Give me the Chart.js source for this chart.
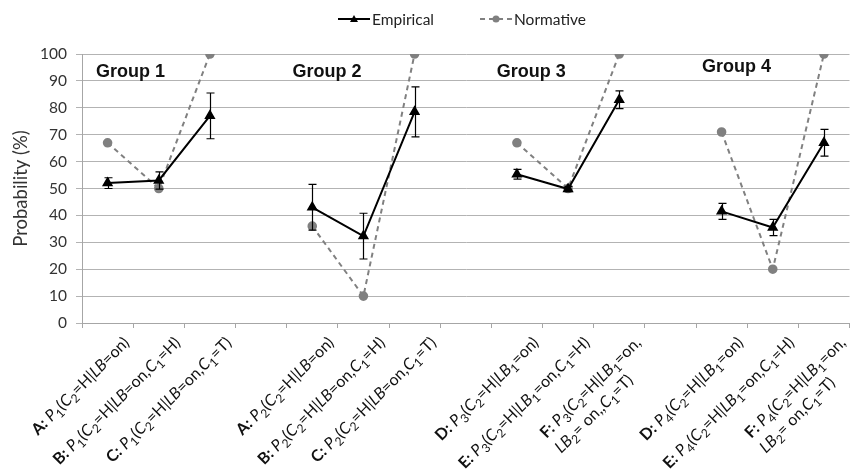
<!DOCTYPE html>
<html>
<head>
<meta charset="utf-8">
<script src="https://cdn.jsdelivr.net/npm/chart.js@4/dist/chart.umd.min.js"></script>
<style>
html,body{margin:0;padding:0;background:#fff;overflow:hidden;}
#wrap{width:856px;height:469px;position:relative;}
</style>
</head>
<body>
<div id="wrap"><canvas id="c"></canvas></div>
<script>
// ---- data ----
const categories = ['G1A','G1B','G1C','gap1','G2A','G2B','G2C','gap2','G3D','G3E','G3F','gap3','G4D','G4E','G4F'];
// rich labels: ^ toggles bold, ~ toggles italic, _x = subscript x
const xLabels = [
  '^A:^ ~P~_1(~C~_2=H|~LB~=on)',
  '^B:^ ~P~_1(~C~_2=H|~LB~=on,~C~_1=H)',
  '^C:^ ~P~_1(~C~_2=H|~LB~=on,~C~_1=T)',
  '',
  '^A:^ ~P~_2(~C~_2=H|~LB~=on)',
  '^B:^ ~P~_2(~C~_2=H|~LB~=on,~C~_1=H)',
  '^C:^ ~P~_2(~C~_2=H|~LB~=on,~C~_1=T)',
  '',
  '^D:^ ~P~_3(~C~_2=H|~LB~_1=on)',
  '^E:^ ~P~_3(~C~_2=H|~LB~_1=on,~C~_1=H)',
  ['^F:^ ~P~_3(~C~_2=H|~LB~_1=on,', '~LB~_2= on,,~C~_1=T)'],
  '',
  '^D:^ ~P~_4(~C~_2=H|~LB~_1=on)',
  '^E:^ ~P~_4(~C~_2=H|~LB~_1=on,~C~_1=H)',
  ['^F:^ ~P~_4(~C~_2=H|~LB~_1=on,', '~LB~_2= on,~C~_1=T)']
];
const empirical      = [52, 53, 77, null, 43, 32.3, 78.5, null, 55.3, 49.8, 83, null, 41.5, 35.5, 67];
const empiricalError = [2, 3.2, 8.5, null, 8.5, 8.5, 9.3, null, 1.8, 1, 3.3, null, 3, 3, 5];
const normative      = [67, 50, 100, null, 36, 10, 100, null, 67, 50, 100, null, 71, 20, 100];
const yTicks = [0,10,20,30,40,50,60,70,80,90,100];
const groupTitles = ['Group 1','Group 2','Group 3','Group 4'];
const seriesNames = ['Empirical','Normative'];

// ---- styles ----
const FONT = 'Lato';
const LBL_SIZE = 16;
const LBL_LINE = 21;

function parseRich(str){
  const segs=[]; let bold=false, italic=false, i=0;
  while(i<str.length){
    const ch=str[i];
    if(ch==='^'){bold=!bold;i++;continue;}
    if(ch==='~'){italic=!italic;i++;continue;}
    if(ch==='_'){segs.push({t:str[i+1],bold,italic:false,sub:true});i+=2;continue;}
    const last=segs[segs.length-1];
    if(last && !last.sub && last.bold===bold && last.italic===italic){last.t+=ch;}
    else segs.push({t:ch,bold,italic,sub:false});
    i++;
  }
  return segs;
}
function segFont(s){
  const size = s.sub ? Math.round(LBL_SIZE*0.75) : LBL_SIZE;
  return (s.italic?'italic ':'')+(s.bold?'bold ':'')+size+'px '+FONT;
}
function segsWidth(ctx,segs){
  let w=0; segs.forEach(s=>{ctx.font=segFont(s); w+=ctx.measureText(s.t).width;}); return w;
}

const richLabels = {
  id:'richLabels',
  afterDraw(chart){
    const {ctx, scales:{x,y}} = chart;
    const base = y.getPixelForValue(0);
    ctx.save();
    ctx.fillStyle='#111';
    ctx.textBaseline='alphabetic';
    xLabels.forEach((lab,i)=>{
      const lines = Array.isArray(lab)?lab:[lab];
      if(!lines[0]) return;
      const px = x.getPixelForValue(i);
      const parsed = lines.map(parseRich);
      const bw = Math.max(...parsed.map(s=>segsWidth(ctx,s)));
      ctx.save();
      ctx.translate(px+13, base+11);
      ctx.rotate(-Math.PI/4);
      parsed.forEach((segs,li)=>{
        let cx=-bw; const by = LBL_SIZE*0.85 + li*LBL_LINE;
        segs.forEach(s=>{
          ctx.font=segFont(s);
          ctx.fillText(s.t,cx,by+(s.sub?LBL_SIZE*0.25:0));
          cx+=ctx.measureText(s.t).width;
        });
      });
      ctx.restore();
    });
    ctx.restore();
  }
};

const errorBars = {
  id:'errorBars',
  afterDatasetsDraw(chart){
    const {ctx, scales:{x,y}} = chart;
    ctx.save();
    ctx.strokeStyle='#000'; ctx.lineWidth=1.2;
    empirical.forEach((v,i)=>{
      if(v===null||empiricalError[i]===null) return;
      const px=Math.round(x.getPixelForValue(i))+0.5;
      const top=y.getPixelForValue(v+empiricalError[i]);
      const bot=y.getPixelForValue(v-empiricalError[i]);
      ctx.beginPath();
      ctx.moveTo(px,top); ctx.lineTo(px,bot);
      ctx.moveTo(px-4,top); ctx.lineTo(px+4,top);
      ctx.moveTo(px-4,bot); ctx.lineTo(px+4,bot);
      ctx.stroke();
    });
    ctx.restore();
  }
};

const groupLabels = {
  id:'groupLabels',
  afterDraw(chart){
    const {ctx, scales:{x,y}} = chart;
    const pos = chart.options.plugins.groupLabels.positions;
    ctx.save();
    ctx.fillStyle='#111';
    ctx.font='bold 18px "Liberation Sans", Arial, sans-serif';
    ctx.textAlign='center'; ctx.textBaseline='alphabetic';
    groupTitles.forEach((t,i)=>{
      ctx.fillText(t, x.getPixelForValue(pos[i][0]), y.getPixelForValue(pos[i][1]));
    });
    ctx.restore();
  }
};

const customLegend = {
  id:'customLegend',
  afterDraw(chart){
    const {ctx} = chart;
    const o = chart.options.plugins.customLegend;
    ctx.save();
    ctx.font = o.size+'px '+FONT;
    ctx.textBaseline='middle';
    let xPos = o.x;
    seriesNames.forEach(name=>{
      const ds = chart.data.datasets.find(d=>d.label===name);
      const lineW = 32, yc = o.y;
      ctx.strokeStyle = ds.borderColor; ctx.lineWidth = ds.borderWidth;
      ctx.setLineDash(ds.borderDash||[]);
      ctx.beginPath(); ctx.moveTo(xPos,yc); ctx.lineTo(xPos+lineW,yc); ctx.stroke();
      ctx.setLineDash([]);
      ctx.fillStyle = ds.pointBackgroundColor;
      const cx = xPos+lineW/2;
      ctx.beginPath();
      if(ds.pointStyle==='triangle'){
        ctx.moveTo(cx,yc-4); ctx.lineTo(cx+4,yc+3); ctx.lineTo(cx-4,yc+3); ctx.closePath();
      } else {
        ctx.arc(cx,yc,3.5,0,Math.PI*2);
      }
      ctx.fill();
      ctx.fillStyle='#222';
      ctx.fillText(ds.label, xPos+lineW+2, yc+1);
      xPos += lineW + 2 + ctx.measureText(ds.label).width + o.gap;
    });
    ctx.restore();
  }
};

new Chart(document.getElementById('c'), {
  type:'line',
  data:{
    labels: categories,
    datasets:[
      {
        label: seriesNames[0],
        data: empirical,
        borderColor:'#000',
        backgroundColor:'#000',
        pointBackgroundColor:'#000',
        pointBorderColor:'#000',
        borderWidth:2,
        pointStyle:'triangle',
        pointRadius:4.5,
        spanGaps:false,
        tension:0,
        order:1
      },
      {
        label: seriesNames[1],
        data: normative,
        borderColor:'#808080',
        backgroundColor:'#808080',
        pointBackgroundColor:'#808080',
        pointBorderColor:'#808080',
        borderWidth:2,
        borderDash:[5,4],
        pointStyle:'circle',
        pointRadius:3.8,
        spanGaps:false,
        tension:0,
        order:2
      }
    ]
  },
  options:{
    responsive:true,
    maintainAspectRatio:false,
    animation:false,
    events:[],
    layout:{padding:{top:54,left:0,right:1.5,bottom:141}},
    plugins:{
      legend:{display:false},
      tooltip:{enabled:false},
      groupLabels:{positions:[[0.45,91.3],[4.29,91.6],[8.28,91.6],[12.29,93.4]]},
      customLegend:{x:338,y:19,gap:46,size:15.5}
    },
    scales:{
      x:{
        type:'category',
        offset:true,
        grid:{offset:true,drawOnChartArea:false,drawTicks:true,tickLength:5,color:'#a6a6a6'},
        border:{color:'#a6a6a6',width:1},
        ticks:{display:false}
      },
      y:{
        min:0,max:100,
        afterBuildTicks(scale){ scale.ticks = yTicks.map(v=>({value:v})); },
        afterFit(scale){ scale.width = 82; },
        grid:{color:'#b3b3b3',lineWidth:1,tickLength:6,drawTicks:true},
        border:{color:'#a6a6a6',width:1},
        ticks:{font:{family:FONT,size:15.5},color:'#333',padding:9},
        title:{display:true,text:'Probability (%)',font:{family:FONT,size:18.5},color:'#333',padding:{top:10,bottom:0}}
      }
    }
  },
  plugins:[errorBars,groupLabels,richLabels,customLegend]
});
</script>
</body>
</html>
